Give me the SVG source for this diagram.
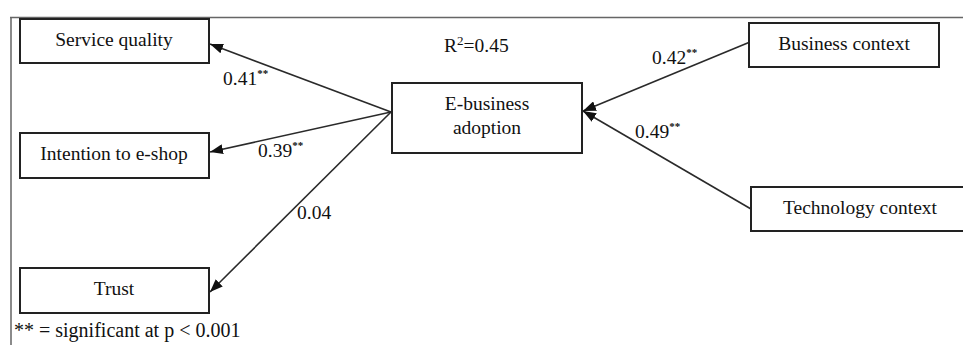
<svg xmlns="http://www.w3.org/2000/svg" width="963" height="345" viewBox="0 0 963 345">
<style>
.box{fill:#fff;stroke:#222;stroke-width:2}
.t{font-family:"Liberation Serif","Times New Roman",serif;font-size:19.5px;fill:#111}
.c{text-anchor:middle}
.sup{font-size:11px;font-weight:bold}
.conn{stroke:#2a2a2a;stroke-width:1.6;fill:none}
.frame{stroke:#666;stroke-width:1.5;fill:none}
</style>
<defs>
<marker id="ah" viewBox="0 0 13 10" refX="13" refY="5" markerWidth="13" markerHeight="10" markerUnits="userSpaceOnUse" orient="auto">
<path d="M0,0 L13,5 L0,10 z" fill="#111"/>
</marker>
</defs>
<rect width="963" height="345" fill="#fff"/>
<path class="frame" d="M10,17.5 H963 M11,17 V345"/>
<g id="connectors">
<line class="conn" x1="391" y1="112" x2="210" y2="44" marker-end="url(#ah)"/>
<line class="conn" x1="391" y1="112" x2="210" y2="152" marker-end="url(#ah)"/>
<line class="conn" x1="391" y1="112" x2="210" y2="292" marker-end="url(#ah)"/>
<line class="conn" x1="750" y1="42" x2="583" y2="111" marker-end="url(#ah)"/>
<line class="conn" x1="751" y1="209" x2="583" y2="111" marker-end="url(#ah)"/>
<text class="t" x="223" y="85">0.41<tspan class="sup" dy="-8">**</tspan></text>
<text class="t" x="258" y="157">0.39<tspan class="sup" dy="-8">**</tspan></text>
<text class="t" x="297" y="219">0.04</text>
<text class="t" x="652" y="64">0.42<tspan class="sup" dy="-8">**</tspan></text>
<text class="t" x="635" y="138">0.49<tspan class="sup" dy="-8">**</tspan></text>
</g>
<g id="service-quality">
<rect class="box" x="20" y="19" width="189" height="44"/>
<text class="t c" x="114" y="46">Service quality</text>
</g>
<g id="intention">
<rect class="box" x="20" y="133" width="189" height="45"/>
<text class="t c" x="114" y="160">Intention to e-shop</text>
</g>
<g id="trust">
<rect class="box" x="20" y="268" width="189" height="45"/>
<text class="t c" x="114" y="295">Trust</text>
</g>
<g id="ebusiness">
<rect class="box" x="392" y="83" width="190" height="70"/>
<text class="t c" x="487" y="110">E-business</text>
<text class="t c" x="487" y="134">adoption</text>
</g>
<g id="r2">
<text class="t" x="444" y="52">R<tspan style="font-size:13px" dy="-7">2</tspan><tspan dy="7">=0.45</tspan></text>
</g>
<g id="business-context">
<rect class="box" x="749" y="23" width="190" height="44"/>
<text class="t c" x="844" y="50">Business context</text>
</g>
<g id="technology-context">
<rect class="box" x="751" y="187" width="220" height="44"/>
<text class="t c" x="860" y="214">Technology context</text>
</g>
<g id="footnote">
<text class="t" x="14" y="337" style="font-size:20px">** = significant at p &lt; 0.001</text>
</g>
</svg>
